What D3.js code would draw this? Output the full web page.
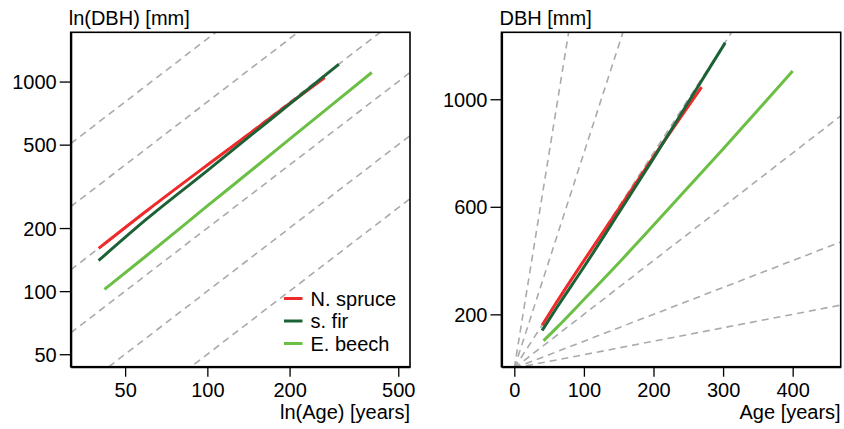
<!DOCTYPE html>
<html>
<head>
<meta charset="utf-8">
<script src="https://cdn.jsdelivr.net/npm/d3@7"></script>
<style>
  html, body { margin: 0; padding: 0; background: #fff; }
  svg { display: block; }
  text { font-family: "Liberation Sans", Arial, Helvetica, sans-serif; fill: #000; }
</style>
</head>
<body>
<svg id="chart" width="844" height="429"></svg>
<script>
// ---------- data ----------
const speciesNames = ["N. spruce", "s. fir", "E. beech"];
const speciesColors = ["#ee2a2a", "#1d6236", "#6cbf45"];

const spruceAge = [40, 60, 100, 150, 200, 269];
const spruceDBH = [160, 242, 400, 592, 786, 1045];
const firAge = [40, 60, 100, 150, 200, 250, 303];
const firDBH = [140, 221, 376, 577, 780, 989, 1210];
const beechAge = [42, 60, 100, 150, 200, 300, 400];
const beechDBH = [102, 148, 255, 391, 531, 815, 1105];

// constant DBH/Age ratio reference lines (mm per year)
const ratioLines = [0.5, 1, 2, 4, 8, 16];

const leftXTicks = [50, 100, 200, 500];
const leftYTicks = [50, 100, 200, 500, 1000];
const rightXTicks = [0, 100, 200, 300, 400];
const rightYTicks = [200, 600, 1000];

const leftXLabel = "ln(Age) [years]";
const leftYLabel = "ln(DBH) [mm]";
const rightXLabel = "Age [years]";
const rightYLabel = "DBH [mm]";

// ---------- layout ----------
const svg = d3.select("#chart");
const boxTop = 32.3, boxBottom = 366.7;
const L = { x0: 70.7, x1: 410 };
const R = { x0: 501.5, x1: 840.7 };

const series = [
  { name: speciesNames[0], color: speciesColors[0], age: spruceAge, dbh: spruceDBH },
  { name: speciesNames[1], color: speciesColors[1], age: firAge, dbh: firDBH },
  { name: speciesNames[2], color: speciesColors[2], age: beechAge, dbh: beechDBH }
];

const xL = d3.scaleLog().domain([31.6, 552]).range([L.x0, L.x1]);
const yL = d3.scaleLog().domain([43.6, 1718]).range([boxBottom, boxTop]);
const xR = d3.scaleLinear().domain([-18.4, 469]).range([R.x0, R.x1]);
const yR = d3.scaleLinear().domain([5.3, 1249]).range([boxBottom, boxTop]);

const defs = svg.append("defs");
defs.append("clipPath").attr("id", "clipL").append("rect")
  .attr("x", L.x0).attr("y", boxTop).attr("width", L.x1 - L.x0).attr("height", boxBottom - boxTop);
defs.append("clipPath").attr("id", "clipR").append("rect")
  .attr("x", R.x0).attr("y", boxTop).attr("width", R.x1 - R.x0).attr("height", boxBottom - boxTop);

function panel(x, y, box, clipId, xTicks, yTicks, xLabel, yLabel, refAges, legend) {
  const g = svg.append("g");
  const plot = g.append("g").attr("clip-path", `url(#${clipId})`);

  // reference dashed lines
  ratioLines.forEach(k => {
    const pts = refAges.map(a => [a, a * k]);
    plot.append("path")
      .attr("d", d3.line().x(d => x(d[0])).y(d => y(d[1]))(pts))
      .attr("fill", "none")
      .attr("stroke", "#aaaaaa")
      .attr("stroke-width", 1.6)
      .attr("stroke-dasharray", "7,5");
  });

  // species lines
  series.forEach(s => {
    const pts = s.age.map((a, i) => [a, s.dbh[i]]);
    plot.append("path")
      .attr("d", d3.line().curve(d3.curveMonotoneX).x(d => x(d[0])).y(d => y(d[1]))(pts))
      .attr("fill", "none")
      .attr("stroke", s.color)
      .attr("stroke-width", 3);
  });

  // frame
  g.append("rect")
    .attr("x", box.x0).attr("y", boxTop)
    .attr("width", box.x1 - box.x0).attr("height", boxBottom - boxTop)
    .attr("fill", "none").attr("stroke", "#000").attr("stroke-width", 1.6);

  // axes
  const xAxis = d3.axisBottom(x).tickValues(xTicks).tickFormat(d3.format("d"))
    .tickSizeInner(10).tickSizeOuter(0).tickPadding(6);
  const gx = g.append("g").attr("transform", `translate(0,${boxBottom})`).call(xAxis);
  gx.select(".domain").attr("stroke-width", 2.2);
  gx.selectAll(".tick line").attr("stroke-width", 1.3);
  gx.selectAll(".tick text").attr("font-size", 20).attr("font-family", null).attr("dy", "0.72em");

  const yAxis = d3.axisLeft(y).tickValues(yTicks).tickFormat(d3.format("d"))
    .tickSizeInner(11).tickSizeOuter(0).tickPadding(3);
  const gy = g.append("g").attr("transform", `translate(${box.x0},0)`).call(yAxis);
  gy.select(".domain").attr("stroke-width", 2.2);
  gy.selectAll(".tick line").attr("stroke-width", 1.3);
  gy.selectAll(".tick text").attr("font-size", 20).attr("font-family", null).attr("dy", "0.35em");

  g.append("text").attr("x", box.x1).attr("y", 419).attr("text-anchor", "end")
    .attr("font-size", 20).text(xLabel);
  g.append("text").attr("x", box.x0 - 2).attr("y", 25).attr("text-anchor", "start")
    .attr("font-size", 20).text(yLabel);

  if (legend) {
    const lg = g.append("g");
    series.forEach((s, i) => {
      const yy = 298.5 + i * 22.5;
      lg.append("line").attr("x1", 284).attr("x2", 302.5).attr("y1", yy).attr("y2", yy)
        .attr("stroke", s.color).attr("stroke-width", 3);
      lg.append("text").attr("x", 310.5).attr("y", yy).attr("dy", "0.35em")
        .attr("font-size", 20).text(s.name);
    });
  }
}

panel(xL, yL, L, "clipL", leftXTicks, leftYTicks, leftXLabel, leftYLabel, [31.6, 552], true);
panel(xR, yR, R, "clipR", rightXTicks, rightYTicks, rightXLabel, rightYLabel, [0, 469], false);
</script>
</body>
</html>
